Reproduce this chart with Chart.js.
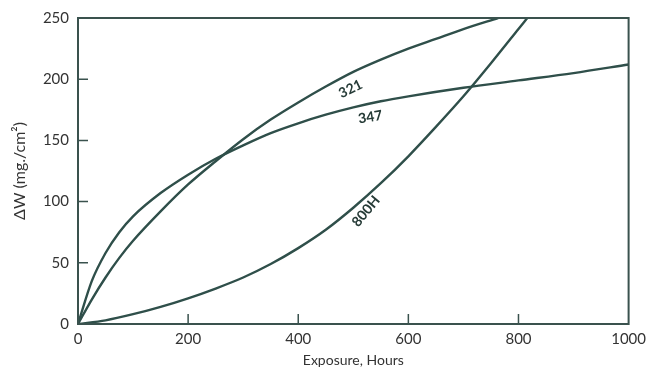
<!DOCTYPE html>
<html lang="en">
    <head>
        <meta charset="utf-8" />
        <title>Weight gain vs exposure</title>
        <script src="https://cdn.jsdelivr.net/npm/chart.js"></script>
        <style>
            html, body { margin: 0; padding: 0; background: #fff; }
            #wrap { width: 652px; height: 373px; }
        </style>
    </head>
    <body>
        <div id="wrap"><canvas id="gainChart" width="652" height="373"></canvas></div>
        <script>
            // values
            const hours321 = [0, 25, 50, 75, 100, 150, 200, 250, 300, 350, 400, 450, 500, 550, 600, 650, 700, 763];
            const gain321  = [0, 20, 38, 54, 68, 92, 114, 133, 151, 167, 181, 194, 206, 216, 225, 233, 241, 250];

            const hours347 = [0, 25, 50, 75, 100, 150, 200, 250, 300, 350, 400, 450, 500, 550, 600, 700, 800, 900, 1000];
            const gain347  = [0, 35, 58, 75, 88, 107, 122, 135, 146, 156, 164, 171, 177, 182, 186, 193, 199, 205, 212];

            const hours800H = [0, 50, 100, 150, 200, 250, 300, 350, 400, 450, 500, 550, 600, 650, 700, 750, 800, 816];
            const gain800H  = [0, 3, 8, 14, 21, 29, 38, 49, 62, 77, 95, 115, 137, 161, 186, 213, 241, 250];

            const xTicks = [0, 200, 400, 600, 800, 1000];
            const yTicks = [0, 50, 100, 150, 200, 250];

            // curve labels: text, hours, gain, angle (deg)
            const curveLabels = [
              { text: '321', x: 495, y: 192, rot: -26 },
              { text: '347', x: 531, y: 169, rot: -9 },
              { text: '800H', x: 523, y: 92, rot: -50 }
            ];

            const ink = '#2f4f4a';
            const font = 'Lato, "DejaVu Sans", sans-serif';

            const toPoints = (xs, ys) => xs.map((x, i) => ({ x: x, y: ys[i] }));

            const lineStyle = {
              borderColor: ink,
              backgroundColor: 'transparent',
              borderWidth: 2.4,
              pointRadius: 0,
              cubicInterpolationMode: 'monotone'
            };

            // frame, inward ticks and curve labels
            const frame = {
              id: 'frame',
              afterDraw(chart) {
                const { ctx, chartArea: a, scales: { x, y } } = chart;
                ctx.save();
                ctx.strokeStyle = '#3a524e';
                ctx.lineWidth = 2;
                ctx.strokeRect(a.left, a.top, a.right - a.left, a.bottom - a.top);

                ctx.lineWidth = 1.5;
                ctx.beginPath();
                xTicks.slice(1, -1).forEach(v => {
                  const px = x.getPixelForValue(v);
                  ctx.moveTo(px, a.bottom);
                  ctx.lineTo(px, a.bottom - 10);
                });
                yTicks.slice(1, -1).forEach(v => {
                  const py = y.getPixelForValue(v);
                  ctx.moveTo(a.left, py);
                  ctx.lineTo(a.left + 10, py);
                });
                ctx.stroke();

                ctx.fillStyle = '#263b37';
                ctx.font = 'bold 14px ' + font;
                ctx.textAlign = 'center';
                ctx.textBaseline = 'middle';
                curveLabels.forEach(l => {
                  ctx.save();
                  ctx.translate(x.getPixelForValue(l.x), y.getPixelForValue(l.y));
                  ctx.rotate(l.rot * Math.PI / 180);
                  ctx.fillText(l.text, 0, 0);
                  ctx.restore();
                });
                ctx.restore();
              }
            };

            new Chart(document.getElementById('gainChart'), {
              type: 'line',
              data: {
                datasets: [
                  Object.assign({ label: '321', data: toPoints(hours321, gain321) }, lineStyle),
                  Object.assign({ label: '347', data: toPoints(hours347, gain347) }, lineStyle),
                  Object.assign({ label: '800H', data: toPoints(hours800H, gain800H) }, lineStyle)
                ]
              },
              options: {
                responsive: false,
                animation: false,
                layout: { padding: { top: 15, right: 21, left: 0, bottom: 0 } },
                plugins: { legend: { display: false }, tooltip: { enabled: false } },
                scales: {
                  x: {
                    type: 'linear',
                    min: 0,
                    max: 1000,
                    afterBuildTicks: s => { s.ticks = xTicks.map(v => ({ value: v })); },
                    afterFit: s => { s.height = 49; },
                    grid: { display: false, drawTicks: false },
                    border: { display: false },
                    ticks: { color: '#333', padding: 6, font: { family: font, size: 15 }, maxRotation: 0, callback: v => String(v) },
                    title: { display: true, text: 'Exposure, Hours', color: '#333', padding: { top: 2 }, font: { family: font, size: 14 } }
                  },
                  y: {
                    type: 'linear',
                    min: 0,
                    max: 250,
                    afterBuildTicks: s => { s.ticks = yTicks.map(v => ({ value: v })); },
                    afterFit: s => { s.width = 78; },
                    grid: { display: false, drawTicks: false },
                    border: { display: false },
                    ticks: { color: '#333', padding: 9, font: { family: font, size: 15 }, callback: v => String(v) },
                    title: { display: true, text: 'ΔW (mg./cm²)', color: '#333', padding: { top: 10, bottom: 0 }, font: { family: font, size: 16 } }
                  }
                }
              },
              plugins: [frame]
            });
        </script>
    </body>
</html>
